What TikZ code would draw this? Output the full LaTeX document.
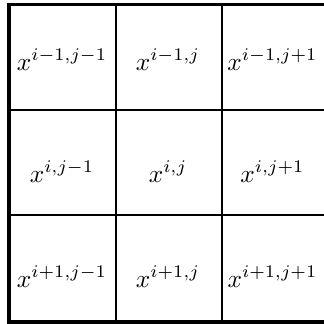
\documentclass[tikz,border=0pt]{standalone}
\begin{document}
\begin{tikzpicture}[x={(0.394pt,0)},y={(0,-0.394pt)},
  inner/.style={line width=0.79pt},
  outer/.style={line width=1.55pt},
  lbl/.style={anchor=base,inner sep=0pt}]
\useasboundingbox (0,0) rectangle (324,324);
\begin{scope}
\clip (0,0) rectangle (324,324);
% inner lines
\draw[inner] (116,4.5) -- (116,322);
\draw[inner] (222,4.5) -- (222,322);
\draw[inner] (8.7,110) -- (330,110);
\draw[inner] (8.7,215) -- (330,215);
% outer frame
\draw[outer] (8.7,4.5) rectangle (328,322);
\end{scope}
% labels
\node[lbl] (a11) at (62,70) {$x^{i-1,j-1}$};
\node[lbl] (a12) at (168,70) {$x^{i-1,j}$};
\node[lbl] (a13) at (272.5,70) {$x^{i-1,j+1}$};
\node[lbl] (a21) at (62,182) {$x^{i,j-1}$};
\node[lbl] (a22) at (168,182) {$x^{i,j}$};
\node[lbl] (a23) at (272.5,182) {$x^{i,j+1}$};
\node[lbl] (a31) at (62,287) {$x^{i+1,j-1}$};
\node[lbl] (a32) at (168,287) {$x^{i+1,j}$};
\node[lbl] (a33) at (272.5,287) {$x^{i+1,j+1}$};
\end{tikzpicture}
\end{document}
